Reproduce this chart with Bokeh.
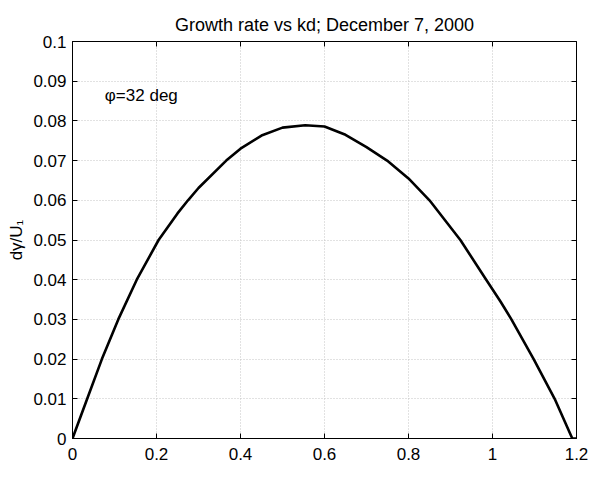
from bokeh.plotting import figure
from bokeh.models import Range1d, FixedTicker, LinearAxis, Label
from bokeh.embed import file_html
from bokeh.resources import INLINE

# ---- data ----
kd = [0.0, 0.035, 0.07, 0.109, 0.153, 0.205, 0.25, 0.275, 0.3, 0.366,
      0.4, 0.45, 0.5, 0.554, 0.6, 0.65, 0.7, 0.749, 0.8, 0.85, 0.9235,
      0.985, 1.019, 1.045, 1.098, 1.148, 1.19, 1.2]
growth = [0.0, 0.01, 0.02, 0.03, 0.04, 0.05, 0.0567, 0.06, 0.0631, 0.07,
          0.073, 0.0763, 0.0783, 0.0789, 0.0786, 0.0765, 0.0734, 0.07, 0.0655, 0.06, 0.05,
          0.04, 0.0345, 0.03, 0.02, 0.01, 0.0, 0.0]

x_ticks = [0, 0.2, 0.4, 0.6, 0.8, 1, 1.2]
x_tick_labels = ["0", "0.2", "0.4", "0.6", "0.8", "1", "1.2"]
y_ticks = [0, 0.01, 0.02, 0.03, 0.04, 0.05, 0.06, 0.07, 0.08, 0.09, 0.1]
y_tick_labels = ["0", "0.01", "0.02", "0.03", "0.04", "0.05", "0.06", "0.07", "0.08", "0.09", "0.1"]

title_text = "Growth rate vs kd; December 7, 2000"
x_label = "kd"
y_label = "dγ/U₁"
note_text = "φ=32 deg"
note_pos = (0.077, 0.0864)

FONT = "Liberation Sans"
FS = "17px"

p = figure(width=592, height=480, output_backend="svg", toolbar_location=None,
           x_range=Range1d(0, 1.2), y_range=Range1d(0, 0.1),
           min_border_left=72, min_border_right=16, min_border_top=41, min_border_bottom=42,
           y_axis_label=y_label)
p.background_fill_color = "white"
p.border_fill_color = "white"
p.outline_line_color = "black"
p.outline_line_width = 1

p.title.text = title_text
p.title.align = "center"
p.title.text_font = FONT
p.title.text_font_size = "18px"
p.title.text_font_style = "normal"
p.title.text_color = "black"
p.title.standoff = 13

for ax in (p.xaxis[0], p.yaxis[0]):
    ax.major_tick_in = 5
    ax.major_tick_out = 0
    ax.minor_tick_line_color = None
    ax.axis_line_color = "black"
    ax.major_tick_line_color = "black"
    ax.major_label_text_font = FONT
    ax.major_label_text_font_size = FS
    ax.major_label_text_color = "black"
    ax.axis_label_text_font = FONT
    ax.axis_label_text_font_size = FS
    ax.axis_label_text_font_style = "normal"
    ax.axis_label_text_color = "black"

p.xaxis[0].ticker = FixedTicker(ticks=x_ticks)
p.xaxis[0].major_label_overrides = {t: l for t, l in zip(x_ticks, x_tick_labels)}
p.xaxis[0].major_label_standoff = 9
p.yaxis[0].ticker = FixedTicker(ticks=y_ticks)
p.yaxis[0].major_label_overrides = {t: l for t, l in zip(y_ticks, y_tick_labels)}
p.yaxis[0].major_label_standoff = 6
p.yaxis[0].axis_label_standoff = 4

# box ticks on top and right (no labels)
top = LinearAxis(ticker=FixedTicker(ticks=x_ticks), major_tick_in=5, major_tick_out=0,
                 minor_tick_line_color=None, axis_line_color=None,
                 major_label_text_color=None, major_label_text_font_size="1px",
                 major_label_standoff=0)
right = LinearAxis(ticker=FixedTicker(ticks=y_ticks), major_tick_in=5, major_tick_out=0,
                   minor_tick_line_color=None, axis_line_color=None,
                   major_label_text_color=None, major_label_text_font_size="1px",
                   major_label_standoff=0)
p.add_layout(top, "above")
p.add_layout(right, "right")

p.xgrid.ticker = FixedTicker(ticks=x_ticks)
p.ygrid.ticker = FixedTicker(ticks=y_ticks)
for g in (p.xgrid[0], p.ygrid[0]):
    g.grid_line_color = "#c4c4c4"
    g.grid_line_dash = "1 2"
    g.grid_line_width = 1

p.line(kd, growth, line_color="black", line_width=2.6, line_join="round")

p.add_layout(Label(x=note_pos[0], y=note_pos[1], text=note_text, text_font=FONT,
                   text_font_size=FS, text_baseline="middle", text_align="left",
                   text_color="black"))
p.add_layout(Label(x=0.6, y=0, y_offset=-32, text=x_label, text_font=FONT,
                   text_font_size=FS, text_baseline="middle", text_align="center",
                   text_color="black"))

open("out.html", "w").write(file_html(p, INLINE))
